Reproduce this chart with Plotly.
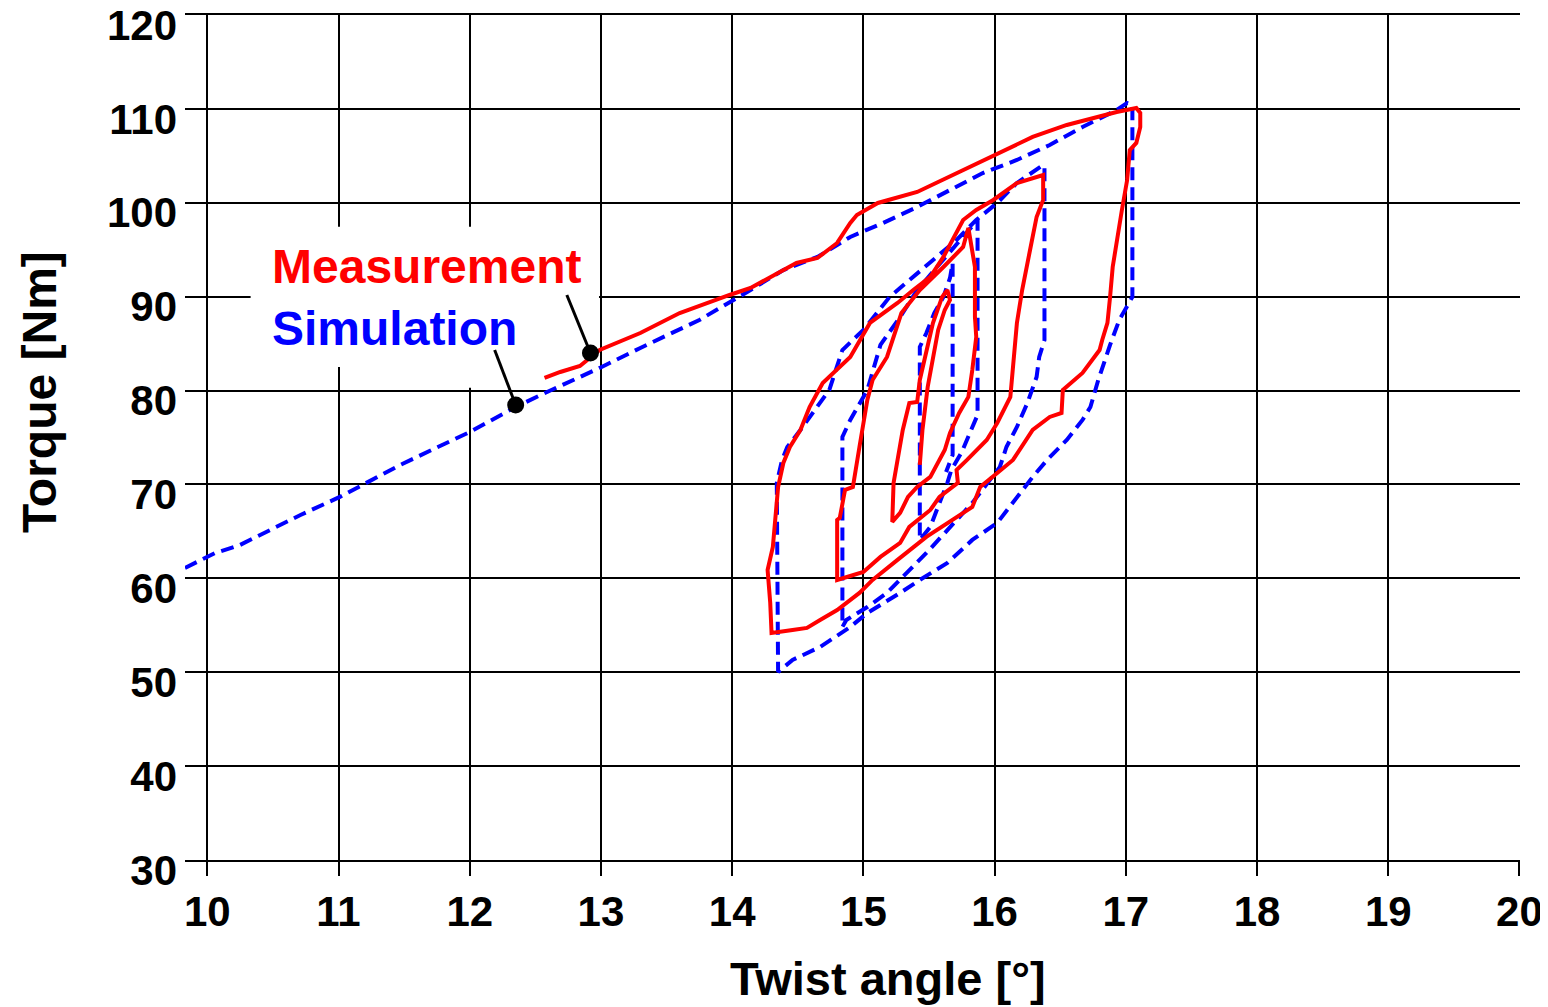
import plotly.graph_objects as go

# ---------------- data ----------------
meas_x = [12.57, 12.69, 12.84, 12.99, 13.30, 13.60, 13.98, 14.14, 14.49, 14.65, 14.80, 14.90, 14.95, 15.11, 15.41, 15.76, 16.02, 16.29, 16.55, 16.75, 16.93, 17.08,
          17.11, 17.11, 17.08, 17.03, 17.01, 16.97, 16.93, 16.90, 16.88, 16.86, 16.82, 16.80, 16.67, 16.52, 16.51, 16.42, 16.29, 16.14, 16.02, 15.89, 15.83, 15.64, 15.48, 15.26, 15.07, 14.97, 14.80, 14.67, 14.57, 14.46, 14.30,
          14.29, 14.27, 14.31, 14.33, 14.35, 14.39, 14.44, 14.52, 14.59, 14.69, 14.90, 15.05, 15.26, 15.38, 15.51, 15.61, 15.76, 15.86, 15.99, 16.17, 16.34, 16.37,
          16.37, 16.32, 16.27, 16.21, 16.17, 16.14, 16.12, 16.02, 15.94, 15.79, 15.71, 15.72, 15.58, 15.51, 15.35, 15.28, 15.13, 15.00, 14.80,
          14.80, 14.82, 14.86, 14.92, 14.97, 15.03, 15.07, 15.18, 15.29, 15.43, 15.61, 15.76, 15.80,
          15.85, 15.85, 15.86, 15.83, 15.80, 15.73, 15.66, 15.62, 15.51, 15.41, 15.34, 15.28, 15.22,
          15.23, 15.26, 15.30, 15.35, 15.41, 15.43, 15.48, 15.53, 15.60, 15.64,
          15.66, 15.62, 15.57, 15.52, 15.49, 15.45, 15.43]
meas_y = [81.34, 81.98, 82.62, 84.32, 86.13, 88.26, 90.18, 90.93, 93.59, 94.12, 95.72, 97.85, 98.70, 99.98, 101.15, 103.49, 105.30, 107.01, 108.29, 109.03, 109.67, 110.10,
          109.56, 108.07, 106.37, 105.62, 102.43, 99.23, 96.04, 93.16, 89.97, 87.20, 85.39, 84.32, 81.87, 80.06, 77.61, 77.19, 75.80, 72.61, 71.22, 69.73, 67.60, 65.90, 64.41, 61.96, 59.83, 58.45, 56.63, 55.57, 54.72, 54.50, 54.18,
          57.38, 60.89, 63.34, 66.97, 69.73, 72.29, 73.99, 75.80, 78.25, 80.81, 83.58, 87.20, 89.33, 90.71, 92.10, 94.23, 98.17, 99.23, 100.30, 102.11, 102.75, 102.96,
          100.30, 98.49, 94.97, 90.71, 87.20, 82.51, 79.32, 76.55, 74.74, 72.61, 71.54, 70.16, 68.67, 67.28, 65.48, 63.77, 62.28, 60.68, 59.83,
          66.22, 66.43, 69.41, 69.73, 73.99, 79.00, 81.13, 83.58, 88.26, 90.71, 93.16, 95.29, 97.32,
          93.16, 87.84, 85.71, 82.19, 79.32, 77.61, 75.48, 73.67, 70.80, 69.73, 68.67, 66.97, 66.01,
          70.16, 72.61, 75.80, 78.68, 78.79, 81.13, 84.32, 87.20, 89.97, 90.71,
          89.65, 88.58, 86.45, 82.94, 80.38, 75.80, 72.08]

sim_x = [9.83, 10.06, 10.25, 10.48, 10.71, 11.01, 11.47, 12.00, 12.35, 12.54, 12.76, 12.99, 13.30, 13.75, 14.14, 14.39, 14.65, 14.90, 15.15, 15.41, 15.66, 15.91, 16.17, 16.42, 16.67, 16.93, 17.01,
         17.05, 17.05, 17.01, 16.95, 16.88, 16.79, 16.73, 16.67, 16.55, 16.40, 16.29, 16.17, 16.02, 15.83, 15.64, 15.43, 15.28, 15.03, 14.90, 14.67, 14.46, 14.35,
         14.34, 14.38, 14.42, 14.52, 14.63, 14.74, 14.84, 15.00, 15.20, 15.35, 15.71, 15.86, 16.02, 16.17, 16.37,
         16.38, 16.38, 16.34, 16.32, 16.25, 16.17, 16.09, 16.04, 15.83, 15.64, 15.48, 15.30, 15.18, 15.03, 14.87, 14.84,
         14.84, 14.90, 14.95, 15.03, 15.13, 15.28, 15.41, 15.56, 15.68, 15.79, 15.87,
         15.87, 15.81, 15.75, 15.67, 15.64, 15.58, 15.51, 15.43,
         15.43, 15.48, 15.54, 15.61, 15.66, 15.68,
         15.68, 15.66, 15.63]
sim_y = [61.11, 62.70, 63.56, 65.16, 66.75, 68.67, 72.08, 75.59, 78.25, 79.53, 80.92, 82.41, 84.54, 87.52, 90.71, 92.84, 94.23, 96.36, 97.85, 99.55, 101.36, 103.17, 104.56, 106.16, 108.07, 109.88, 110.63,
         110.42, 89.97, 88.90, 87.52, 84.86, 81.13, 78.25, 76.87, 74.74, 72.61, 70.80, 68.67, 65.90, 64.09, 61.64, 59.83, 58.45, 56.31, 54.82, 52.69, 51.31, 50.03,
         70.16, 72.61, 73.99, 75.80, 77.93, 80.06, 84.32, 86.45, 89.97, 91.78, 96.04, 98.17, 99.98, 102.11, 104.03,
         103.81, 85.39, 83.58, 81.45, 78.68, 76.12, 73.99, 71.86, 68.03, 65.16, 62.70, 60.15, 58.45, 56.95, 55.57, 54.82,
         75.06, 76.87, 78.15, 80.06, 84.86, 87.84, 90.71, 93.16, 94.97, 96.89, 98.17,
         77.40, 75.48, 73.46, 71.54, 70.16, 68.03, 65.48, 64.09,
         84.64, 86.13, 88.26, 89.97, 91.99, 93.59,
         73.14, 72.40, 71.33]

x_ticks = [10, 11, 12, 13, 14, 15, 16, 17, 18, 19, 20]
y_ticks = [30, 40, 50, 60, 70, 80, 90, 100, 110, 120]

# label pointer dots (data points the labels refer to)
label_names = ["Measurement", "Simulation"]
dot_x = [12.92, 12.35]
dot_y = [84.00, 78.47]

FONT = "Liberation Sans, Arial, sans-serif"

fig = go.Figure()

fig.add_trace(go.Scatter(x=sim_x, y=sim_y, mode="lines",
                         line=dict(color="#0000FF", width=4, dash="13px,7px"),
                         name="Simulation", showlegend=False))
fig.add_trace(go.Scatter(x=meas_x, y=meas_y, mode="lines",
                         line=dict(color="#FF0000", width=4),
                         name="Measurement", showlegend=False))
fig.add_trace(go.Scatter(x=dot_x, y=dot_y, mode="markers",
                         marker=dict(color="black", size=17),
                         showlegend=False, hoverinfo="skip"))

shapes = [
    # white box behind the labels
    dict(type="rect", xref="x", yref="y", x0=10.33, x1=12.985, y0=89.6, y1=97.45,
         fillcolor="white", line=dict(width=0), layer="above"),
    dict(type="rect", xref="x", yref="y", x0=10.33, x1=11.5, y0=82.5, y1=89.7,
         fillcolor="white", line=dict(width=0), layer="above"),
    dict(type="rect", xref="x", yref="y", x0=11.5, x1=12.12, y0=80.3, y1=89.7,
         fillcolor="white", line=dict(width=0), layer="above"),
    # leader lines
    dict(type="line", xref="x", yref="y", x0=12.74, y0=90.18, x1=dot_x[0], y1=dot_y[0],
         line=dict(color="black", width=3), layer="above"),
    dict(type="line", xref="x", yref="y", x0=12.19, y0=84.32, x1=dot_x[1], y1=dot_y[1],
         line=dict(color="black", width=3), layer="above"),
]

annotations = [
    dict(text=label_names[0], x=10.48, y=93.2, xref="x", yref="y",
         xanchor="left", yanchor="middle", showarrow=False,
         font=dict(family=FONT, size=48, color="#FF0000", weight="bold")),
    dict(text=label_names[1], x=10.48, y=86.6, xref="x", yref="y",
         xanchor="left", yanchor="middle", showarrow=False,
         font=dict(family=FONT, size=48, color="#0000FF", weight="bold")),
    dict(text="Twist angle [°]", x=0.5265, y=-0.1408, xref="paper", yref="paper",
         xanchor="center", yanchor="middle", showarrow=False,
         font=dict(family=FONT, size=47, color="black", weight="bold")),
    dict(text="Torque [Nm]", x=-0.1086, y=0.554, xref="paper", yref="paper",
         xanchor="center", yanchor="middle", showarrow=False, textangle=-90,
         font=dict(family=FONT, size=48, color="black", weight="bold")),
]

# the page body adds an 8 px margin, so the figure is 8 px smaller and margins shifted
fig.update_layout(
    width=1540, height=999,
    margin=dict(l=177, r=28, t=7, b=147, autoexpand=False),
    paper_bgcolor="white", plot_bgcolor="white",
    shapes=shapes, annotations=annotations,
    showlegend=False,
    font=dict(family=FONT, color="black"),
)

fig.update_xaxes(
    range=[9.83, 20.004], automargin=False,
    tickvals=x_ticks, ticktext=[str(v) for v in x_ticks],
    showgrid=True, gridcolor="black", gridwidth=2,
    showline=True, linecolor="black", linewidth=2, mirror=True,
    ticks="outside", ticklen=14, tickwidth=2, tickcolor="black",
    tickfont=dict(family=FONT, size=42, color="black", weight="bold"),
    zeroline=False,
)
fig.update_yaxes(
    range=[30, 120.001], automargin=False,
    tickvals=y_ticks, ticktext=[str(v) for v in y_ticks],
    showgrid=True, gridcolor="black", gridwidth=2,
    showline=False, ticks="", ticklabelstandoff=7, ticklabelshift=10,
    ticklabeloverflow="allow",
    tickfont=dict(family=FONT, size=42, color="black", weight="bold"),
    zeroline=False,
)

fig.write_html("out.html")
